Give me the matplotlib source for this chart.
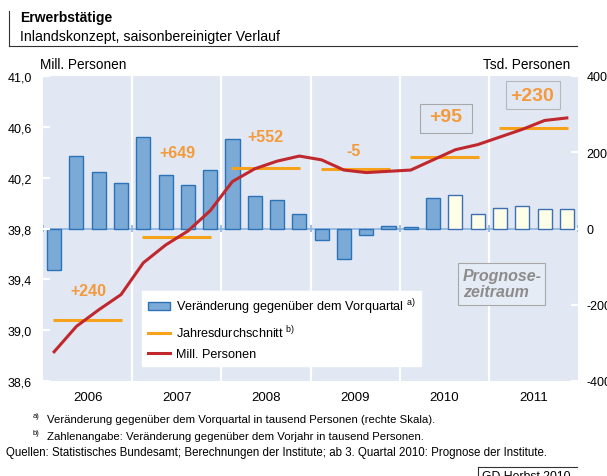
import numpy as np
import matplotlib
matplotlib.use("Agg")
import matplotlib.pyplot as plt
from matplotlib.lines import Line2D
from matplotlib.patches import Patch, Rectangle

plt.rcParams['font.family'] = ['Liberation Sans', 'DejaVu Sans']
plt.rcParams['mathtext.fontset'] = 'custom'
plt.rcParams['mathtext.rm'] = 'Liberation Sans'

# data
years = ["2006", "2007", "2008", "2009", "2010", "2011"]
# quarterly change vs previous quarter, thousand persons (right scale)
change = [-110, 189, 147, 119,
          241, 140, 114, 154,
          236, 84, 75, 39,
          -29, -79, -18, 6,
          3, 81, 87, 39,
          53, 59, 52, 51]
# employed persons, millions (left scale)
level = [38.83, 39.03, 39.16, 39.28,
         39.53, 39.67, 39.78, 39.94,
         40.17, 40.27, 40.33, 40.37,
         40.34, 40.26, 40.24, 40.25,
         40.26, 40.34, 40.42, 40.46,
         40.52, 40.58, 40.65, 40.67]
annual_avg = [39.08, 39.73, 40.28, 40.27, 40.36, 40.59]
annual_change = ["+240", "+649", "+552", "-5", "+95", "+230"]
first_forecast = 18  # Q3 2010

panel = "#E1E8F4"
bar_fc = "#7BAAD6"
bar_ec = "#2B72B8"
fc_fc = "#FEFDE8"
fc_ec = "#3D6FB5"
orange = "#F7A21B"
orange_txt = "#F39A3A"
red = "#C0282E"

fig = plt.figure(figsize=(6.07, 4.77), dpi=100)
ax = fig.add_axes([43/607, 95/477, 535/607, 305/477])
ax2 = ax.twinx()

x = np.arange(len(change)) + 0.5

# bars (right scale)
ax.set_facecolor(panel)
ax.set_xlim(0, 24)
ax.set_ylim(-400, 400)
for k in range(4, 24, 4):
    ax.axvline(k, color="white", lw=1.6, zorder=1)
ax.axhline(0, color="#8DB3DE", lw=1.2, zorder=1.5)
ax.vlines(np.arange(0, 25, 4), -8, 8, color="#8DB3DE", lw=1.2, zorder=1.5)
fcs = [bar_fc if i < first_forecast else fc_fc for i in range(len(change))]
ecs = [bar_ec if i < first_forecast else fc_ec for i in range(len(change))]
ax.bar(x, change, width=0.63, color=fcs, edgecolor=ecs, linewidth=1.0, zorder=2)

ax.yaxis.tick_right()
ax.set_yticks([-400, -200, 0, 200, 400])
ax.set_yticklabels(["-400", "-200", "0", "200", "400"])
ax.tick_params(axis="y", direction="in", length=5, width=1.5, color="white",
               labelsize=9, pad=6)
ax.set_xticks(np.arange(2, 24, 4))
ax.set_xticklabels(years)
ax.tick_params(axis="x", length=0, labelsize=9.5, pad=7)
for s in ax.spines.values():
    s.set_visible(False)

# level line and annual averages (left scale)
ax2.set_ylim(38.6, 41.0)
ax2.yaxis.tick_left()
ax2.set_yticks([38.6, 39.0, 39.4, 39.8, 40.2, 40.6, 41.0])
ax2.set_yticklabels(["38,6", "39,0", "39,4", "39,8", "40,2", "40,6", "41,0"])
ax2.tick_params(axis="y", direction="in", length=5, width=1.5, color="white",
                labelsize=9, pad=8)
for s in ax2.spines.values():
    s.set_visible(False)

for k, avg in enumerate(annual_avg):
    ax2.plot([4*k + 0.45, 4*k + 3.55], [avg, avg], color=orange, lw=2.2,
             solid_capstyle="butt", zorder=3)
ax2.plot(x, level, color=red, lw=2.2, zorder=4)

# annual change labels
label_pos = [(2.04, 39.31, 11.5), (6.03, 40.40, 11.5), (10.0, 40.52, 11.5),
             (13.91, 40.41, 11.5), (18.08, 40.68, 14), (21.94, 40.85, 14)]
for txt, (px, py, fs) in zip(annual_change, label_pos):
    ax2.text(px, py, txt, color=orange_txt, fontsize=fs, fontweight="bold",
             ha="center", va="center", zorder=5)
ax2.add_patch(Rectangle((16.91, 40.55), 2.34, 0.23, fill=False,
                        ec="#A8A8A8", lw=0.8, zorder=5))
ax2.add_patch(Rectangle((20.76, 40.74), 2.43, 0.22, fill=False,
                        ec="#B8B8B8", lw=0.8, zorder=5))

# forecast note
ax2.add_patch(Rectangle((18.62, 39.20), 3.9, 0.33, fc="#E6ECF6",
                        ec="#A8A8A8", lw=0.8, zorder=5))
ax2.text(18.83, 39.365, "Prognose-\nzeitraum", color="#8C8C8C", fontsize=11.5,
         fontweight="bold", fontstyle="italic", ha="left", va="center",
         linespacing=1.05, zorder=6)

handles = [Patch(fc=bar_fc, ec=bar_ec, lw=1.0),
           Line2D([], [], color=orange, lw=2.2),
           Line2D([], [], color=red, lw=2.2)]
labels = [r"Veränderung gegenüber dem Vorquartal $^{\rm a)}$",
          r"Jahresdurchschnitt $^{\rm b)}$",
          "Mill. Personen"]
leg = ax2.legend(handles, labels, loc="lower left",
                 bbox_to_anchor=(0.185, 0.049), fontsize=9.1, frameon=True,
                 fancybox=False, framealpha=1, edgecolor="white",
                 handlelength=1.75, labelspacing=0.62, borderpad=0.45,
                 handletextpad=0.5, borderaxespad=0)
leg.set_zorder(10)

# titles and notes
fig.text(20/607, 1 - 18/477, "Erwerbstätige", fontsize=10,
         fontweight="bold", va="center")
fig.text(20/607, 1 - 37/477, "Inlandskonzept, saisonbereinigter Verlauf",
         fontsize=10.2, va="center")
fig.add_artist(Line2D([9/607, 9/607], [1 - 12/477, 1 - 47/477],
                      color="#333333", lw=0.8))
fig.add_artist(Line2D([9/607, 577/607], [1 - 47/477, 1 - 47/477],
                      color="#333333", lw=0.8))
fig.text(40/607, 1 - 65/477, "Mill. Personen", fontsize=9.8, va="center")
fig.text(570/607, 1 - 65/477, "Tsd. Personen", fontsize=9.8, va="center",
         ha="right")

fig.text(33/607, 1 - 417/477, "a)", fontsize=5.5, va="center")
fig.text(47/607, 1 - 420/477,
         "Veränderung gegenüber dem Vorquartal in tausend Personen (rechte Skala).",
         fontsize=8.2, va="center")
fig.text(33/607, 1 - 434/477, "b)", fontsize=5.5, va="center")
fig.text(47/607, 1 - 437/477,
         "Zahlenangabe: Veränderung gegenüber dem Vorjahr in tausend Personen.",
         fontsize=8.2, va="center")
fig.text(6/607, 1 - 453/477,
         "Quellen: Statistisches Bundesamt; Berechnungen der Institute; "
         "ab 3. Quartal 2010: Prognose der Institute.",
         fontsize=8.3, va="center")
fig.add_artist(Line2D([478/607, 478/607], [1 - 468/477, 0],
                      color="#333333", lw=0.8))
fig.add_artist(Line2D([478/607, 577/607], [1 - 468/477, 1 - 468/477],
                      color="#333333", lw=0.8))
fig.text(482/607, 1 - 471/477, "GD Herbst 2010", fontsize=8.8, va="top")

fig.savefig("out.png", dpi=100)
